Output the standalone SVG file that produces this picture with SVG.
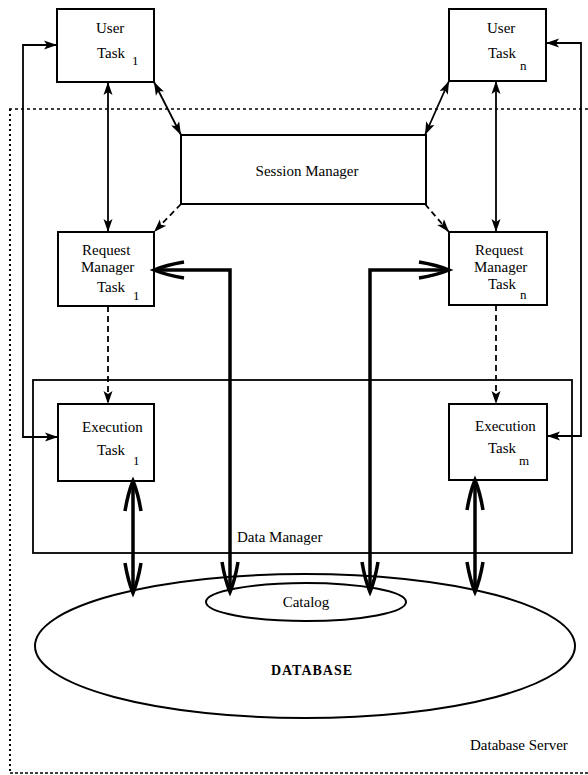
<svg xmlns="http://www.w3.org/2000/svg" width="588" height="775" viewBox="0 0 588 775">
<style>
.box{fill:#fff;stroke:#000;stroke-width:2}
.t{font-family:"Liberation Serif","Times New Roman",serif;font-size:15px;fill:#000}
.s{font-family:"Liberation Serif","Times New Roman",serif;font-size:13px;fill:#000}
.thin{fill:none;stroke:#000;stroke-width:1.8}
.dash{fill:none;stroke:#000;stroke-width:1.8;stroke-dasharray:6,4}
.thick{fill:none;stroke:#000;stroke-width:3.5}
</style>
<defs>
<marker id="af" markerUnits="userSpaceOnUse" markerWidth="14" markerHeight="10" refX="13" refY="4.5" orient="auto-start-reverse" overflow="visible">
<path d="M0,0 L13,4.5 L0,9 L3,4.5 z" fill="#000"/>
</marker>
<marker id="ao" markerUnits="userSpaceOnUse" markerWidth="32" markerHeight="20" refX="30" refY="8" orient="auto-start-reverse" overflow="visible">
<path d="M0,0 Q18,3 30,8 Q18,13 0,16" fill="none" stroke="#000" stroke-width="3.5"/>
</marker>
</defs>

<g id="server-boundary">
<path d="M9,109 H588" fill="none" stroke="#000" stroke-width="1.6" stroke-dasharray="3,3"/>
<path d="M10,109 V773" fill="none" stroke="#000" stroke-width="2" stroke-dasharray="2,3"/>
<path d="M10,773 H588" fill="none" stroke="#000" stroke-width="1.4" stroke-dasharray="3,2"/>
<text class="t" x="470" y="750">Database Server</text>
</g>

<g id="data-manager">
<rect x="33" y="380" width="539" height="173" fill="none" stroke="#000" stroke-width="1.8"/>
<text class="t" x="237" y="542">Data Manager</text>
</g>

<g id="database">
<ellipse cx="305" cy="646" rx="270" ry="72" fill="#fff" stroke="#000" stroke-width="2"/>
<text x="312" y="675" text-anchor="middle" font-family="Liberation Serif, Times New Roman, serif" font-size="14" font-weight="bold" letter-spacing="1">DATABASE</text>
</g>

<g id="catalog">
<ellipse cx="306" cy="602" rx="100" ry="19" fill="#fff" stroke="#000" stroke-width="2"/>
<text class="t" x="306" y="607" text-anchor="middle">Catalog</text>
</g>

<g id="user-task-1">
<rect class="box" x="57" y="9" width="97" height="73"/>
<text class="t" x="96" y="33">User</text>
<text class="t" x="97" y="58">Task</text>
<text class="s" x="132" y="65">1</text>
</g>

<g id="user-task-n">
<rect class="box" x="449" y="9" width="97" height="72"/>
<text class="t" x="487" y="33">User</text>
<text class="t" x="488" y="58">Task</text>
<text class="s" x="520" y="70">n</text>
</g>

<g id="session-manager">
<rect class="box" x="181" y="135" width="245" height="69"/>
<text class="t" x="307" y="176" text-anchor="middle">Session Manager</text>
</g>

<g id="request-manager-1">
<rect class="box" x="58" y="232" width="96" height="74"/>
<text class="t" x="82" y="255">Request</text>
<text class="t" x="81" y="272">Manager</text>
<text class="t" x="97" y="292">Task</text>
<text class="s" x="133" y="300">1</text>
</g>

<g id="request-manager-n">
<rect class="box" x="449" y="232" width="98" height="73"/>
<text class="t" x="475" y="255">Request</text>
<text class="t" x="474" y="272">Manager</text>
<text class="t" x="488" y="289">Task</text>
<text class="s" x="520" y="299">n</text>
</g>

<g id="execution-task-1">
<rect class="box" x="58" y="404" width="96" height="77"/>
<text class="t" x="82" y="432">Execution</text>
<text class="t" x="97" y="455">Task</text>
<text class="s" x="133" y="465">1</text>
</g>

<g id="execution-task-m">
<rect class="box" x="449" y="404" width="98" height="76"/>
<text class="t" x="475" y="431">Execution</text>
<text class="t" x="488" y="453">Task</text>
<text class="s" x="519" y="465">m</text>
</g>

<g id="connectors">
<path class="thin" d="M57,45 H23 V437 H58" marker-start="url(#af)" marker-end="url(#af)"/>
<path class="thin" d="M546,43 H581 V436 H547" marker-start="url(#af)" marker-end="url(#af)"/>
<path class="thin" d="M108,82 V232" marker-start="url(#af)" marker-end="url(#af)"/>
<path class="thin" d="M496,81 V232" marker-start="url(#af)" marker-end="url(#af)"/>
<path class="thin" d="M154,82 L181,135" marker-start="url(#af)" marker-end="url(#af)"/>
<path class="thin" d="M449,81 L425,135" marker-start="url(#af)" marker-end="url(#af)"/>
<path class="dash" d="M181,204 L154,232" marker-end="url(#af)"/>
<path class="dash" d="M425,204 L449,232" marker-end="url(#af)"/>
<path class="dash" d="M108,306 V404" marker-end="url(#af)"/>
<path class="dash" d="M496,305 V404" marker-end="url(#af)"/>
<path class="thick" d="M154,270 H230 V592" marker-start="url(#ao)" marker-end="url(#ao)"/>
<path class="thick" d="M449,270 H370 V592" marker-start="url(#ao)" marker-end="url(#ao)"/>
<path class="thick" d="M133,481 V593" marker-start="url(#ao)" marker-end="url(#ao)"/>
<path class="thick" d="M475,480 V592" marker-start="url(#ao)" marker-end="url(#ao)"/>
</g>
</svg>
